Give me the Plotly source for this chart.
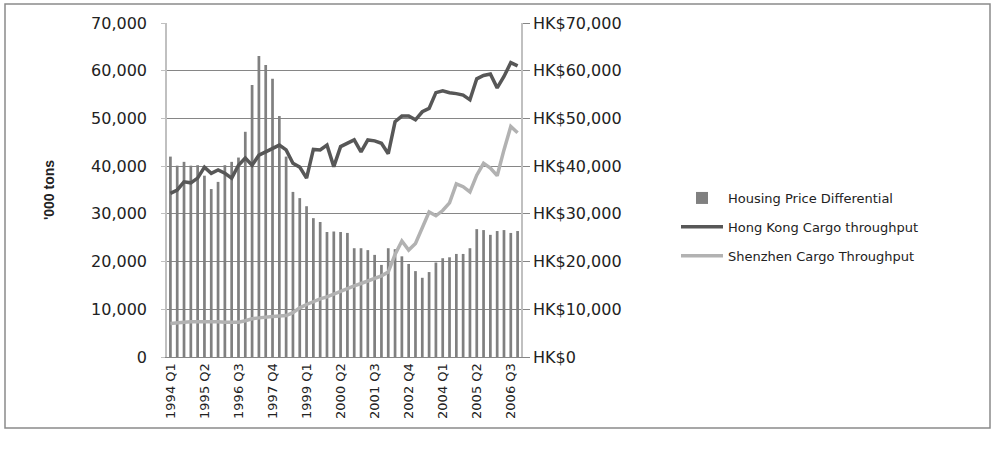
import plotly.graph_objects as go

quarters = [f"{y} Q{q}" for y in range(1994, 2007) for q in range(1, 5)]

housing_price_diff = [
    42000, 40100, 40900, 40100, 40200, 38000, 35200, 36700, 40200, 40900,
    41800, 47200, 57000, 63100, 61200, 58300, 50500, 42000, 34600, 33300,
    31600, 29100, 28300, 26200, 26300, 26200, 26000, 22800, 22800, 22400,
    21400, 19300, 22800, 22600, 21100, 19500, 18000, 16600, 17800, 19800,
    20700, 20900, 21600, 21600, 22800, 26800, 26600, 25600, 26400, 26600,
    26000, 26400,
]

hk_cargo = [
    34300, 35000, 36700, 36500, 37500, 39800, 38500, 39200, 38500, 37500,
    40200, 41700, 40200, 42300, 43000, 43800, 44400, 43400, 40600, 39800,
    37500, 43500, 43400, 44400, 39900, 44100, 44900, 45500, 43000, 45500,
    45300, 44800, 42600, 49300, 50500, 50500, 49700, 51400, 52100, 55400,
    55800, 55400, 55200, 54900, 53900, 58300, 59000, 59300, 56400, 58800,
    61700, 61000,
]

sz_cargo = [
    7000, 7200, 7300, 7400, 7400, 7500, 7500, 7400, 7300, 7300,
    7300, 7600, 8000, 8200, 8400, 8500, 8600, 8700, 9300, 10300,
    11000, 11600, 12200, 12600, 13200, 13900, 14400, 14900, 15400, 16000,
    16500, 17000, 17800, 21500, 24300, 22400, 23800, 27300, 30400, 29600,
    30700, 32300, 36300, 35700, 34600, 38100, 40600, 39600, 38000, 43400,
    48300, 47000,
]

tick_labels = quarters[::5]
left_ticks = [0, 10000, 20000, 30000, 40000, 50000, 60000, 70000]
right_ticks = left_ticks

fig = go.Figure()
fig.add_trace(go.Bar(
    x=quarters, y=housing_price_diff, name="Housing Price Differential",
    marker=dict(color="#808080", line=dict(width=0)), yaxis="y", legendgroup="a",
))
fig.add_trace(go.Scatter(
    x=quarters, y=hk_cargo, name="Hong Kong Cargo throughput", mode="lines",
    line=dict(color="#575757", width=3.5), yaxis="y2", legendgroup="b",
))
fig.add_trace(go.Scatter(
    x=quarters, y=sz_cargo, name="Shenzhen Cargo Throughput", mode="lines",
    line=dict(color="#b2b2b2", width=3.5), yaxis="y2", legendgroup="c",
))

L, R, T, B = 167, 476, 23, 93
pw = 997 - L - R
ph = 450 - T - B

def px(x):
    return (x - L) / pw

def py(y):
    return (450 - B - y) / ph

fig.update_layout(
    width=997, height=450,
    margin=dict(l=L, r=R, t=T, b=B, autoexpand=False),
    paper_bgcolor="white", plot_bgcolor="white",
    bargap=0.6,
    showlegend=True,
    legend=dict(
        x=px(676), y=py(183), xanchor="left", yanchor="top",
        font=dict(family="DejaVu Sans", size=13, color="#222222"),
        itemwidth=42, tracegroupgap=9, traceorder="grouped",
        bgcolor="rgba(0,0,0,0)",
    ),
    xaxis=dict(
        type="category", tickmode="array", tickvals=tick_labels, ticktext=tick_labels,
        tickangle=-90, tickfont=dict(family="DejaVu Sans", size=13, color="#222222"),
        showgrid=False, showline=True, linecolor="#868686", linewidth=1,
        ticks="", range=[-0.5, 51.5],
    ),
    yaxis=dict(
        side="right", range=[0, 70000], tickvals=right_ticks,
        ticktext=[f"HK${v:,}" for v in right_ticks],
        tickfont=dict(family="DejaVu Sans", size=16, color="#222222"),
        showgrid=True, gridcolor="#868686", gridwidth=1,
        ticks="outside", ticklen=7, tickcolor="#868686",
        showline=True, linecolor="#c0c0c0", linewidth=1.5,
        zeroline=False, fixedrange=True,
    ),
    yaxis2=dict(
        overlaying="y", side="left", range=[0, 70000], tickvals=left_ticks,
        ticktext=[f"{v:,}" for v in left_ticks],
        tickfont=dict(family="DejaVu Sans", size=16, color="#222222"),
        showgrid=False, ticks="outside", ticklen=4, tickcolor="#c0c0c0",
        ticklabelstandoff=11,
        showline=True, linecolor="#c0c0c0", linewidth=1.5, zeroline=False,
        title=dict(text="'000 tons",
                   font=dict(family="Liberation Sans Narrow, Liberation Sans", size=14,
                             color="#222222", weight="bold"),
                   standoff=33),
    ),
    shapes=[dict(
        type="rect", xref="paper", yref="paper",
        x0=px(5), x1=px(990), y0=py(4), y1=py(428),
        line=dict(color="#8a8a8a", width=1.5), fillcolor="rgba(0,0,0,0)", layer="above",
    )],
)

fig.write_html("out.html", config={"displayModeBar": False},
               post_script="document.body.style.margin='0';")
